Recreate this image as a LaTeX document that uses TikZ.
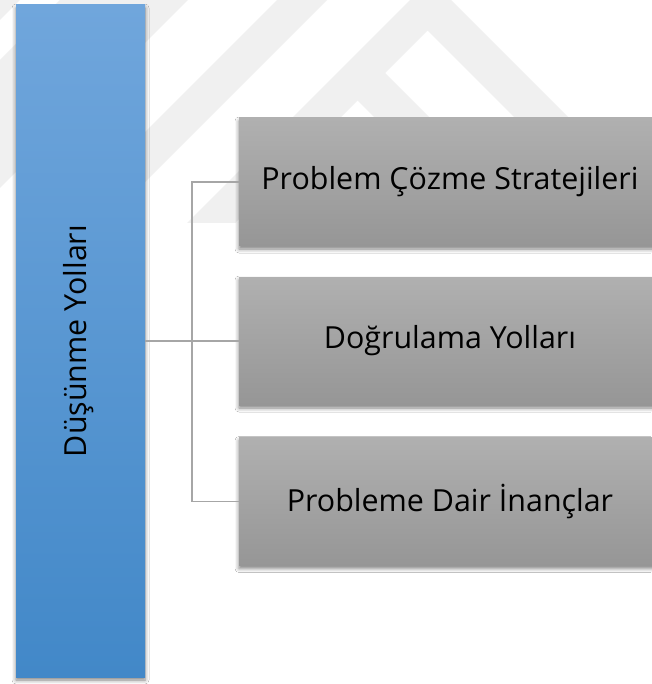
\documentclass[tikz,border=0pt]{standalone}
\usepackage{fontspec}
\setmainfont{Open Sans}
\usetikzlibrary{shadows.blur}
\definecolor{wmgray}{RGB}{240,240,240}
\definecolor{bluetop}{RGB}{112,166,220}
\definecolor{bluebot}{RGB}{66,136,200}
\definecolor{graytop}{RGB}{176,176,176}
\definecolor{graybot}{RGB}{150,150,150}
\definecolor{conncol}{RGB}{166,166,166}
\tikzset{
  wm/.style={fill=wmgray},
  bluebox/.style={rectangle, inner sep=0pt, top color=bluetop, bottom color=bluebot,
    blur shadow={shadow xshift=0pt, shadow yshift=-3pt, shadow blur radius=4pt, shadow opacity=50}},
  graybox/.style={rectangle, inner sep=0pt, minimum width=422pt, minimum height=128pt,
    top color=graytop, bottom color=graybot, font=\fontsize{30.4}{36}\selectfont,
    blur shadow={shadow xshift=0pt, shadow yshift=-3pt, shadow blur radius=4pt, shadow opacity=50}},
  conn/.style={draw=conncol, line width=1.6pt},
  lbl/.style={font=\fontsize{30.4}{36}\selectfont, inner sep=0pt}
}
\begin{document}
\begin{tikzpicture}[x=1pt,y=-1pt]
\useasboundingbox (0,0) rectangle (651,684);
\fill[white] (0,0) rectangle (651,684);
% faint watermark
\begin{scope}
\clip (0,0) rectangle (651,223);
\fill[wm] (0,0)--(20,0)--(0,20)--cycle;
\fill[wm] (60,0)--(188,0)--(0,188)--(0,60)--cycle;
\fill[wm] (277,0)--(327,0)--(104,223)--(54,223)--cycle;
\fill[wm,even odd rule] (187,223)--(430.5,-20.5)--(674,223)--cycle
  (235,223)--(427.5,30.5)--(620,223)--cycle;
\fill[wm] (357,100)--(384.5,72.5)--(535,223)--(480,223)--cycle;
\end{scope}
% main box
\node[bluebox, minimum width=129pt, minimum height=672pt] (main) at (80.5,341) {};
\node[lbl, rotate=90] (mainlbl) at (79,341) {Düşünme Yolları};
% gray boxes
\node[graybox] (b1) at (450,182) {Problem Çözme Stratejileri};
\node[graybox] (b2) at (450,341) {Doğrulama Yolları};
\node[graybox] (b3) at (450,501.5) {Probleme Dair İnançlar};
% connectors
\coordinate (jx) at (192,341);
\draw[conn] (main.east) -- (b2.west);
\draw[conn] (b1.west) -- (b1.west -| jx) -- (b3.west -| jx) -- (b3.west);
\end{tikzpicture}
\end{document}
